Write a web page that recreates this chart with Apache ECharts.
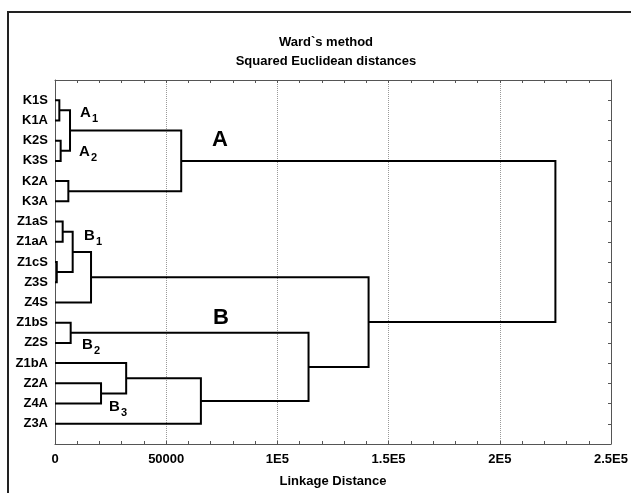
<!DOCTYPE html>
<html lang="en">
<head>
<meta charset="UTF-8" />
<title>Ward`s method</title>
<script src="https://cdn.jsdelivr.net/npm/echarts@6/dist/echarts.min.js"></script>
<style>
  html, body { margin: 0; padding: 0; background: #fff; }
  #chart { width: 631px; height: 493px; }
</style>
</head>
<body>
<div id="chart"></div>
<script>
// leaves, top to bottom
var leaves = ['K1S', 'K1A', 'K2S', 'K3S', 'K2A', 'K3A', 'Z1aS', 'Z1aA', 'Z1cS',
  'Z3S', 'Z4S', 'Z1bS', 'Z2S', 'Z1bA', 'Z2A', 'Z4A', 'Z3A'];
// merges: [node a, node b, linkage distance]; new node ids start at 17
var mergeA = [0, 2, 17, 4, 19, 6, 8, 22, 24, 11, 14, 13, 28, 26, 25, 21];
var mergeB = [1, 3, 18, 5, 20, 7, 9, 23, 10, 12, 15, 27, 16, 29, 30, 31];
var mergeDist = [1950, 2550, 6750, 6000, 56750, 3450, 800, 7950, 16200, 7050,
  20700, 32000, 65600, 114000, 141000, 225000];
var xTickLabels = ['0', '50000', '1E5', '1.5E5', '2E5', '2.5E5'];

// dendrogram links from the merges
var nodeX = [], nodeY = [];
leaves.forEach(function (n, i) { nodeX.push(0); nodeY.push(i + 1); });
var links = [];
for (var i = 0; i < mergeDist.length; i++) {
  var a = mergeA[i], b = mergeB[i], h = mergeDist[i];
  links.push({
    coords: [[nodeX[a], nodeY[a]], [h, nodeY[a]], [h, nodeY[b]], [nodeX[b], nodeY[b]]]
  });
  nodeX.push(h);
  nodeY.push((nodeY[a] + nodeY[b]) / 2);
}

var font = 'Liberation Sans, Arial, sans-serif';
var axisColor = '#555';

// cluster labels: letter + subscript
function clusterLabel(letter, sub, x, y) {
  return [
    { type: 'text', x: x, y: y, z: 10,
      style: { text: letter, font: 'bold 15px ' + font, fill: '#000', align: 'left', verticalAlign: 'top', textAlign: 'left', textVerticalAlign: 'top' } },
    { type: 'text', x: x + 12, y: y + 8, z: 10,
      style: { text: sub, font: 'bold 11px ' + font, fill: '#000', align: 'left', verticalAlign: 'top', textAlign: 'left', textVerticalAlign: 'top' } }
  ];
}

var graphics = [
  { type: 'rect', z: 0, shape: { x: 8, y: 12, width: 700, height: 600 },
    style: { fill: 'none', stroke: '#222', lineWidth: 2 } },
  { type: 'text', x: 212, y: 129, z: 10,
    style: { text: 'A', font: 'bold 22px ' + font, fill: '#000', align: 'left', verticalAlign: 'top', textAlign: 'left', textVerticalAlign: 'top' } },
  { type: 'text', x: 213, y: 307, z: 10,
    style: { text: 'B', font: 'bold 22px ' + font, fill: '#000', align: 'left', verticalAlign: 'top', textAlign: 'left', textVerticalAlign: 'top' } }
].concat(clusterLabel('A', '1', 80, 105))
 .concat(clusterLabel('A', '2', 79, 144))
 .concat(clusterLabel('B', '1', 84, 228))
 .concat(clusterLabel('B', '2', 82, 337))
 .concat(clusterLabel('B', '3', 109, 399));

var chart = echarts.init(document.getElementById('chart'));
chart.setOption({
  animation: false,
  title: {
    text: 'Ward`s method',
    subtext: 'Squared Euclidean distances',
    left: 321,
    top: 31,
    textAlign: 'center',
    itemGap: 6,
    textStyle: { fontSize: 13, fontWeight: 'bold', color: '#000', fontFamily: font },
    subtextStyle: { fontSize: 13, fontWeight: 'bold', color: '#000', fontFamily: font }
  },
  grid: { left: 55, right: 20, top: 80, bottom: 46 },
  xAxis: [
    {
      type: 'value', position: 'bottom', min: 0, max: 250000, interval: 50000,
      axisLine: { show: true, onZero: false, lineStyle: { color: axisColor, width: 1 } },
      axisTick: { show: true, inside: true, length: 3, lineStyle: { color: axisColor } },
      minorTick: { show: true, splitNumber: 5, length: 3, lineStyle: { color: axisColor } },
      splitLine: { show: true, lineStyle: { color: '#999', type: 'dotted', width: 1 } },
      axisLabel: {
        margin: 9, color: '#000', fontSize: 13, fontWeight: 'bold', fontFamily: font,
        formatter: function (v) { return xTickLabels[Math.round(v / 50000)]; }
      },
      name: 'Linkage Distance', nameLocation: 'middle', nameGap: 31,
      nameTextStyle: { color: '#000', fontSize: 13, fontWeight: 'bold', fontFamily: font }
    },
    {
      type: 'value', position: 'top', min: 0, max: 250000, interval: 50000,
      axisLine: { show: true, onZero: false, lineStyle: { color: axisColor, width: 1 } },
      axisTick: { show: true, inside: true, length: 3, lineStyle: { color: axisColor } },
      minorTick: { show: true, splitNumber: 5, length: 3, lineStyle: { color: axisColor } },
      splitLine: { show: false },
      axisLabel: { show: false }
    }
  ],
  yAxis: [
    {
      type: 'value', position: 'left', min: 0, max: 18, interval: 1, inverse: true,
      axisLine: { show: true, onZero: false, lineStyle: { color: axisColor, width: 1 } },
      axisTick: { show: false },
      splitLine: { show: false },
      axisLabel: {
        margin: 7, color: '#000', fontSize: 13, fontWeight: 'bold', fontFamily: font,
        formatter: function (v) { return leaves[v - 1] || ''; }
      }
    },
    {
      type: 'value', position: 'right', min: 0, max: 18, interval: 1, inverse: true,
      axisLine: { show: true, onZero: false, lineStyle: { color: axisColor, width: 1 } },
      axisTick: { show: true, inside: true, length: 3, lineStyle: { color: axisColor } },
      splitLine: { show: false },
      axisLabel: { show: false }
    }
  ],
  graphic: graphics,
  series: [
    {
      type: 'lines',
      coordinateSystem: 'cartesian2d',
      xAxisIndex: 0,
      yAxisIndex: 0,
      polyline: true,
      silent: true,
      lineStyle: { color: '#000', width: 2, opacity: 1 },
      data: links
    }
  ]
});
</script>
</body>
</html>
